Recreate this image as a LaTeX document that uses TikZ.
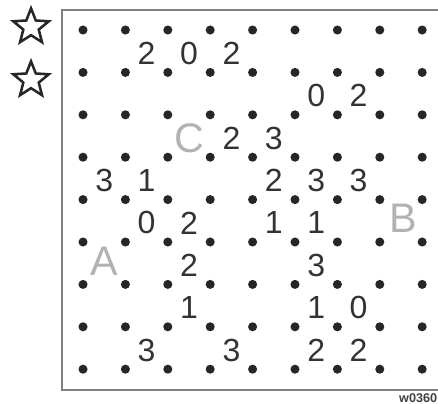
\documentclass[tikz,border=0pt]{standalone}
\usepackage{fontspec}
\newfontfamily\cluefont{Liberation Sans}
\usetikzlibrary{shapes.geometric}

\begin{document}
\begin{tikzpicture}[x=31.8pt,y=31.8pt,
    dot/.style={circle,fill=black!85,inner sep=0pt,minimum size=6.8pt},
    clue/.style={inner sep=0pt,text=black!80,font=\cluefont\fontsize{24}{24}\selectfont},
    region/.style={inner sep=0pt,text=black!30,font=\cluefont\fontsize{31}{31}\selectfont},
    starmark/.style={star,star points=5,star point ratio=2.3,draw=black!85,line width=1.9pt,
      minimum size=28pt,inner sep=0pt},
    frame/.style={draw=black!50,line width=1.1pt}]

  \useasboundingbox (-1.958,0.708) rectangle (8.373,-8.821);

  % frame, open on the right
  \draw[frame] (8.373,0.472) -- (-0.495,0.472) -- (-0.495,-8.491) -- (8.373,-8.491);

  % the 9x9 dots
  \foreach \i in {0,...,8} {
    \foreach \j in {0,...,8} {
      \node[dot] (d\i-\j) at (\i,-\j) {};
    }
  }

  % clues, col/row/value
  \foreach \i/\j/\v in {%
      1/0/2, 2/0/0, 3/0/2,
      5/1/0, 6/1/2,
      3/2/2, 4/2/3,
      0/3/3, 1/3/1, 4/3/2, 5/3/3, 6/3/3,
      1/4/0, 2/4/2, 4/4/1, 5/4/1,
      2/5/2, 5/5/3,
      2/6/1, 5/6/1, 6/6/0,
      1/7/3, 3/7/3, 5/7/2, 6/7/2} {
    \node[clue] (c\i-\j) at (\i+0.5,-\j-0.55) {\v};
  }

  \node[region] (A) at (0.5,-5.45) {A};
  \node[region] (B) at (7.55,-4.45) {B};
  \node[region] (C) at (2.5,-2.56) {C};

  \node[starmark] (s1) at (-1.226,0.07) {};
  \node[starmark] (s2) at (-1.226,-1.18) {};

  \node[anchor=east,inner sep=0pt,text=black!75,font=\cluefont\bfseries\fontsize{9.5}{9.5}\selectfont]
       (code) at (8.36,-8.68) {w0360};

\end{tikzpicture}
\end{document}
